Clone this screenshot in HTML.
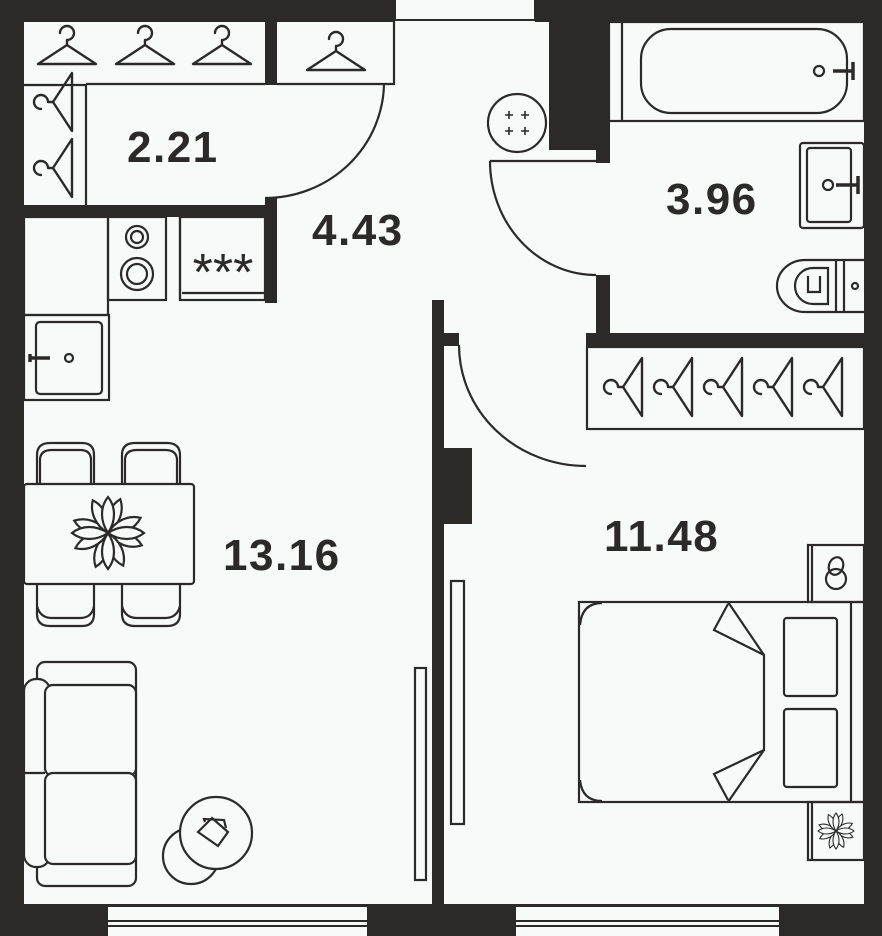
<!DOCTYPE html>
<html><head><meta charset="utf-8"><style>html,body{margin:0;padding:0;background:#f8f9f9}svg{display:block}</style></head><body>
<svg width="882" height="936" viewBox="0 0 882 936" xmlns="http://www.w3.org/2000/svg">
<defs>
<g id="hg" fill="none" stroke="#2b2a29" stroke-width="2.4" stroke-linejoin="round" stroke-linecap="round">
<path d="M-29,14 L0,-5 L29,14 Z"/>
<path d="M0,-5 V-10 A7,7 0 1 0 -7,-17"/>
</g>
<g id="fl" fill="#f8f9f9" stroke="#2b2a29" stroke-width="2.2">
<path d="M0,0 C-8,-12 -8,-26 0,-36 C8,-26 8,-12 0,0Z" transform="rotate(20)"/>
<path d="M0,0 C-8,-12 -8,-26 0,-36 C8,-26 8,-12 0,0Z" transform="rotate(65)"/>
<path d="M0,0 C-8,-12 -8,-26 0,-36 C8,-26 8,-12 0,0Z" transform="rotate(110)"/>
<path d="M0,0 C-8,-12 -8,-26 0,-36 C8,-26 8,-12 0,0Z" transform="rotate(155)"/>
<path d="M0,0 C-8,-12 -8,-26 0,-36 C8,-26 8,-12 0,0Z" transform="rotate(200)"/>
<path d="M0,0 C-8,-12 -8,-26 0,-36 C8,-26 8,-12 0,0Z" transform="rotate(245)"/>
<path d="M0,0 C-8,-12 -8,-26 0,-36 C8,-26 8,-12 0,0Z" transform="rotate(290)"/>
<path d="M0,0 C-8,-12 -8,-26 0,-36 C8,-26 8,-12 0,0Z" transform="rotate(335)"/>
<path d="M0,0 C-8,-12 -8,-26 0,-36 C8,-26 8,-12 0,0Z" transform="rotate(0)"/>
<path d="M0,0 C-8,-12 -8,-26 0,-36 C8,-26 8,-12 0,0Z" transform="rotate(90)"/>
<path d="M0,0 C-8,-12 -8,-26 0,-36 C8,-26 8,-12 0,0Z" transform="rotate(180)"/>
<path d="M0,0 C-8,-12 -8,-26 0,-36 C8,-26 8,-12 0,0Z" transform="rotate(270)"/>
</g>
</defs>
<rect width="882" height="936" fill="#f8f9f9"/>
<g fill="#2b2a29">
<rect x="0" y="0" width="24" height="936"/>
<rect x="0" y="0" width="395" height="22"/>
<rect x="535" y="0" width="347" height="22"/>
<rect x="864" y="0" width="18" height="936"/>
<rect x="0" y="904" width="882" height="32"/>
<rect x="24" y="205" width="252" height="12"/>
<rect x="265" y="22" width="12" height="63"/>
<rect x="265" y="197" width="12" height="106"/>
<rect x="432" y="300" width="12" height="604"/>
<rect x="444" y="333" width="15" height="13"/>
<rect x="444" y="448" width="28" height="76"/>
<rect x="549" y="22" width="61" height="128"/>
<rect x="596" y="150" width="14" height="13"/>
<rect x="596" y="275" width="14" height="60"/>
<rect x="586" y="333" width="278" height="14"/>
</g>
<g fill="#f8f9f9" stroke="#2b2a29" stroke-width="2">
<rect x="395" y="-2" width="140" height="22"/>
<rect x="107" y="906" width="261" height="32"/>
<rect x="515" y="906" width="265" height="32"/>
</g>
<g stroke="#2b2a29" stroke-width="2" fill="none">
<line x1="107" y1="921" x2="368" y2="921"/><line x1="107" y1="926" x2="368" y2="926"/>
<line x1="515" y1="921" x2="780" y2="921"/><line x1="515" y1="926" x2="780" y2="926"/>
<line x1="395" y1="20" x2="535" y2="20"/>
</g>
<g fill="none" stroke="#2b2a29" stroke-width="2.2">
<path d="M24,85 H86 V205"/><line x1="86" y1="84" x2="265" y2="84"/>
<path d="M277,84 H394 V22"/>
<path d="M384,83 A119,116 0 0 1 265,198"/>
<rect x="24" y="217" width="84" height="98"/>
<rect x="108" y="217" width="58" height="83"/>
<line x1="180" y1="217" x2="180" y2="300"/>
<rect x="180" y="217" width="85" height="83"/>
<line x1="182" y1="293" x2="265" y2="293"/>
<circle cx="137" cy="237" r="11"/><circle cx="137" cy="237" r="6"/>
<circle cx="137" cy="274" r="16"/><circle cx="137" cy="274" r="10"/>
<rect x="24" y="315" width="85" height="85"/>
<rect x="36" y="322" width="66" height="72" rx="4"/>
<circle cx="69" cy="358" r="4"/>
<path d="M30,354 V362 M30,358 H50" stroke-width="3.5"/>
<path d="M459,345 A127,121 0 0 0 586,466"/>
<rect x="415" y="668" width="11" height="212"/>
<rect x="451" y="581" width="13" height="243"/>
<line x1="490" y1="161" x2="596" y2="161"/>
<path d="M490,161 A106,114 0 0 0 596,275"/>
<circle cx="517" cy="123" r="29"/>
<rect x="609" y="22" width="255" height="99"/>
<line x1="622" y1="22" x2="622" y2="121"/>
<rect x="641" y="29" width="206" height="84" rx="30"/>
<circle cx="819" cy="71" r="5"/>
<path d="M833,71 H853 M853,62 V80" stroke-width="3.5"/>
<rect x="800" y="143" width="64" height="85" rx="3"/>
<rect x="807" y="148" width="44" height="74" rx="3"/>
<circle cx="828" cy="185" r="5"/>
<path d="M836,185 H858 M858,176 V194" stroke-width="3.5"/>
<path d="M864,260 H805 A28,26 0 0 0 805,312 H864"/>
<path d="M813,268 A18,18 0 0 0 813,304 H828 V268 Z"/>
<line x1="836" y1="260" x2="836" y2="312"/><line x1="844" y1="260" x2="844" y2="312"/>
<circle cx="855" cy="286" r="3"/>
<path d="M808,276 V292 H820 V276"/>
<rect x="587" y="347" width="277" height="82"/>
<path d="M37,484 V455 Q37,443 50,443 H82 Q94,443 94,455 V484"/>
<path d="M40,484 V460 Q40,450 52,450 H80 Q91,450 91,460 V484"/>
<path d="M122,484 V455 Q122,443 135,443 H167 Q180,443 180,455 V484"/>
<path d="M125,484 V460 Q125,450 137,450 H165 Q177,450 177,460 V484"/>
<path d="M37,584 V614 Q37,626 50,626 H82 Q94,626 94,614 V584"/>
<path d="M37,606 Q40,618 52,618 H80 Q92,618 94,606"/>
<path d="M122,584 V614 Q122,626 135,626 H167 Q180,626 180,614 V584"/>
<path d="M122,606 Q125,618 137,618 H165 Q177,618 180,606"/>
<rect x="24" y="484" width="170" height="100" rx="3" fill="#f8f9f9"/>
<rect x="37" y="662" width="99" height="224" rx="8"/>
<rect x="24" y="679" width="26" height="188" rx="12" fill="#f8f9f9"/>
<rect x="45" y="685" width="91" height="91" rx="8" fill="#f8f9f9"/>
<rect x="45" y="773" width="91" height="91" rx="8" fill="#f8f9f9"/>
<line x1="24" y1="773" x2="45" y2="773"/>
<circle cx="191" cy="856" r="28"/>
<circle cx="216" cy="833" r="36" fill="#f8f9f9"/>
<path d="M198,832 L212,818 L228,832 L218,846 Z"/>
<path d="M205,822 L204,819 L224,820 L226,828"/>
<rect x="808" y="545" width="56" height="57"/>
<line x1="812" y1="545" x2="812" y2="602"/>
<circle cx="836" cy="579" r="10"/>
<ellipse cx="836" cy="566" rx="7" ry="9" transform="rotate(20 836 566)"/>
<rect x="808" y="802" width="56" height="58"/>
<line x1="812" y1="802" x2="812" y2="860"/>
<rect x="579" y="602" width="285" height="200"/>
<line x1="851" y1="602" x2="851" y2="802"/>
<path d="M580,625 Q582,603 602,603 M580,780 Q582,801 602,801"/>
<path d="M728,602 L764,655 V750 L728,802"/>
<path d="M728,604 L714,630 L764,655"/>
<path d="M728,800 L714,774 L764,750"/>
<rect x="784" y="618" width="53" height="78" rx="3"/>
<rect x="784" y="709" width="53" height="78" rx="3"/>
</g>
<g stroke="#2b2a29" stroke-width="1.6" fill="none">
<path d="M505,115 h8 M509,111 v8 M521,115 h8 M525,111 v8 M505,131 h8 M509,127 v8 M521,131 h8 M525,127 v8"/>
</g>
<use href="#fl" transform="translate(108,533)"/>
<use href="#fl" transform="translate(836,831) scale(0.5)"/>
<use href="#hg" transform="translate(67,50)"/>
<use href="#hg" transform="translate(145,50)"/>
<use href="#hg" transform="translate(222,50)"/>
<use href="#hg" transform="translate(336,56)"/>
<use href="#hg" transform="translate(58,102) rotate(-90)"/>
<use href="#hg" transform="translate(58,168) rotate(-90)"/>
<use href="#hg" transform="translate(628,387) rotate(-90)"/>
<use href="#hg" transform="translate(678,387) rotate(-90)"/>
<use href="#hg" transform="translate(728,387) rotate(-90)"/>
<use href="#hg" transform="translate(778,387) rotate(-90)"/>
<use href="#hg" transform="translate(828,387) rotate(-90)"/>
<g font-family="Liberation Sans, sans-serif" fill="#2b2a29">
<text x="223" y="290" font-size="52" text-anchor="middle">***</text>
<g font-size="44" font-weight="bold" letter-spacing="1.5">
<text x="127" y="162">2.21</text>
<text x="312" y="245">4.43</text>
<text x="666" y="214">3.96</text>
<text x="223" y="570">13.16</text>
<text x="604" y="551">11.48</text>
</g></g>
</svg>
</body></html>
